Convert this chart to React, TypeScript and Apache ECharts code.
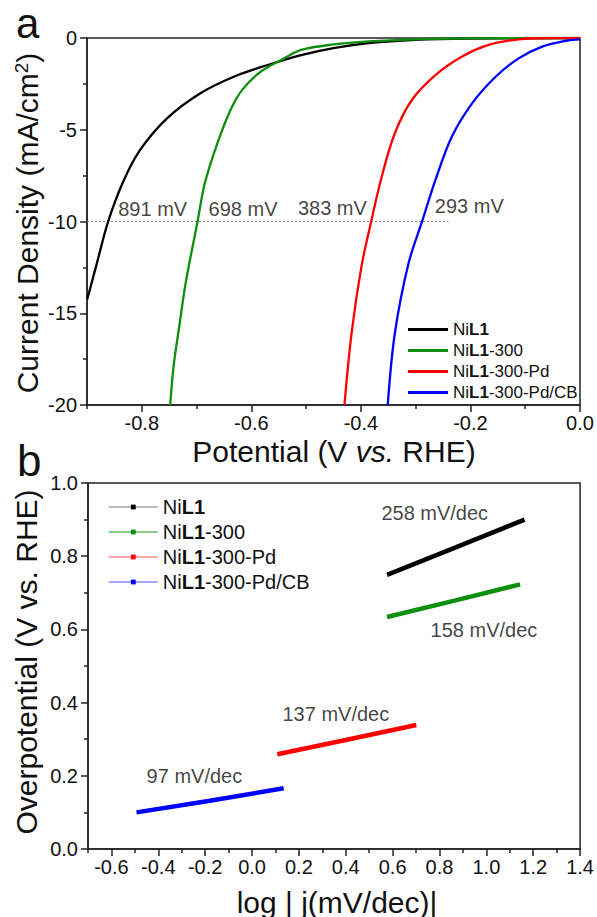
import React, { useEffect, useRef } from 'react';
import * as echarts from 'echarts';

const FONT = '"Liberation Sans", Arial, Helvetica, sans-serif';

const seriesNames = ['NiL1', 'NiL1-300', 'NiL1-300-Pd', 'NiL1-300-Pd/CB'];
const colors = ['#000000', '#0c8f0c', '#ff0000', '#0000ff'];
const legendLineColors = ['#a6a6a6', '#66b866', '#ff8a8a', '#8a8aff'];

// (a) LSV curves: [potential V vs RHE, current density mA/cm2]
const lsvNiL1 = [
  [-0.8995, -14.24], [-0.882, -12.28], [-0.861, -9.97], [-0.834, -7.83], [-0.803, -6.1],
  [-0.754, -4.38], [-0.693, -3.01], [-0.632, -2.11], [-0.57, -1.47], [-0.509, -0.93],
  [-0.45, -0.55], [-0.386, -0.28], [-0.3, -0.1], [-0.2, -0.03], [0, 0],
];
const lsvNiL1_300 = [
  [-0.748, -20], [-0.742, -17.9], [-0.731, -15.6], [-0.72, -13.37], [-0.698, -9.97],
  [-0.685, -7.92], [-0.662, -5.74], [-0.638, -3.92], [-0.616, -2.8], [-0.583, -1.84],
  [-0.54, -1.11], [-0.509, -0.65], [-0.45, -0.35], [-0.386, -0.18], [-0.3, -0.07],
  [-0.2, -0.02], [0, 0],
];
const lsvNiL1_300_Pd = [
  [-0.43, -20], [-0.417, -16.09], [-0.399, -12.46], [-0.381, -9.97], [-0.362, -7.56],
  [-0.338, -5.19], [-0.307, -3.38], [-0.264, -2.02], [-0.216, -1.02], [-0.167, -0.38],
  [-0.112, -0.07], [-0.05, 0], [0, 0],
];
const lsvNiL1_300_PdCB = [
  [-0.351, -20], [-0.338, -16.09], [-0.313, -12.28], [-0.288, -9.97], [-0.264, -7.74],
  [-0.234, -5.38], [-0.197, -3.56], [-0.154, -2.11], [-0.112, -1.11], [-0.069, -0.47],
  [-0.026, -0.15], [0, -0.07],
];
const refLine10 = [[-0.9, -10], [-0.24, -10]];
const lsvLabels = [
  [-0.843, -9.31, '891 mV'],
  [-0.678, -9.31, '698 mV'],
  [-0.515, -9.24, '383 mV'],
  [-0.265, -9.14, '293 mV'],
];

// (b) Tafel lines: [log|j|, overpotential V]
const tafelNiL1 = [[0.576, 0.749], [0.872, 0.825], [1.163, 0.9]];
const tafelNiL1_300 = [[0.576, 0.634], [0.86, 0.678], [1.144, 0.723]];
const tafelNiL1_300_Pd = [[0.108, 0.259], [0.4, 0.298], [0.701, 0.339]];
const tafelNiL1_300_PdCB = [[-0.493, 0.1], [-0.18, 0.132], [0.135, 0.166]];
const tafelLabels = [
  [0.552, 0.919, '258 mV/dec'],
  [0.762, 0.598, '158 mV/dec'],
  [0.13, 0.368, '137 mV/dec'],
  [-0.45, 0.2, '97 mV/dec'],
];

// tick labels
const xTicksA = [-0.8, -0.6, -0.4, -0.2, 0];
const xMinorA = [-0.9, -0.7, -0.5, -0.3, -0.1];
const xTicksB = [-0.6, -0.4, -0.2, 0, 0.2, 0.4, 0.6, 0.8, 1.0, 1.2, 1.4];
const xMinorB = [-0.7, -0.5, -0.3, -0.1, 0.1, 0.3, 0.5, 0.7, 0.9, 1.1, 1.3];

const lsvData = [lsvNiL1, lsvNiL1_300, lsvNiL1_300_Pd, lsvNiL1_300_PdCB];
const tafelData = [tafelNiL1, tafelNiL1_300, tafelNiL1_300_Pd, tafelNiL1_300_PdCB];

const AXIS_COLOR = '#222';
const TEXT_COLOR = '#111';

function legendFormatter(name: string) {
  const base = name.split('#')[0];
  const rest = base.slice(4);
  return '{n|Ni}{b|L1}' + (rest ? '{n|' + rest + '}' : '');
}

function majorX(gridIndex: number, min: number, max: number, ticks: number[]) {
  return {
    type: 'value', gridIndex, min, max, position: 'bottom',
    axisLine: { show: true, onZero: false, lineStyle: { color: AXIS_COLOR, width: 1.5 } },
    axisTick: { show: true, length: 7, customValues: ticks, lineStyle: { color: AXIS_COLOR, width: 1.5 } },
    axisLabel: {
      show: true, customValues: ticks, margin: 8, fontSize: 20, lineHeight: 20, fontFamily: FONT, color: TEXT_COLOR,
      formatter: (v: number) => v.toFixed(1),
    },
    splitLine: { show: false },
  };
}
function minorX(gridIndex: number, min: number, max: number, ticks: number[]) {
  return {
    type: 'value', gridIndex, min, max, position: 'bottom',
    axisLine: { show: false, onZero: false },
    axisTick: { show: true, length: 4, customValues: ticks, lineStyle: { color: AXIS_COLOR, width: 1.5 } },
    axisLabel: { show: false },
    splitLine: { show: false },
  };
}

export default function App() {
  const ref = useRef<HTMLDivElement>(null);
  useEffect(() => {
    if (!ref.current) return;
    const chart = echarts.init(ref.current, undefined, { renderer: 'svg' });

    const series: any[] = [];
    seriesNames.forEach((n, i) => {
      series.push({
        name: n + '#a', type: 'line', xAxisIndex: 0, yAxisIndex: 0,
        data: lsvData[i], symbol: 'none', smooth: 0.35,
        lineStyle: { color: colors[i], width: 2.3 }, itemStyle: { color: colors[i] },
        z: 3,
      });
    });
    series.push({
      name: 'ref', type: 'line', xAxisIndex: 0, yAxisIndex: 0, data: refLine10, symbol: 'none',
      lineStyle: { color: '#8a8a8a', width: 1.2, type: [2, 2] }, silent: true, z: 2,
    });
    series.push({
      name: 'lsvLabels', type: 'scatter', xAxisIndex: 0, yAxisIndex: 0, data: lsvLabels, symbolSize: 0,
      silent: true, z: 5,
      label: {
        show: true, position: 'right', distance: 0, fontSize: 20, fontFamily: FONT, color: TEXT_COLOR,
        formatter: (p: any) => p.data[2],
      },
    });
    seriesNames.forEach((n, i) => {
      series.push({
        name: n + '#b', type: 'line', xAxisIndex: 2, yAxisIndex: 1,
        data: tafelData[i], symbol: 'rect', showSymbol: false,
        lineStyle: { color: colors[i], width: 4.5 }, itemStyle: { color: colors[i] },
        z: 3,
      });
    });
    series.push({
      name: 'tafelLabels', type: 'scatter', xAxisIndex: 2, yAxisIndex: 1, data: tafelLabels, symbolSize: 0,
      silent: true, z: 5,
      label: {
        show: true, position: 'right', distance: 0, fontSize: 20, fontFamily: FONT, color: TEXT_COLOR,
        formatter: (p: any) => p.data[2],
      },
    });

    const richLegend = (fs: number) => ({
      n: { fontSize: fs, fontFamily: FONT, color: TEXT_COLOR },
      b: { fontSize: fs, fontFamily: FONT, color: TEXT_COLOR, fontWeight: 'bold' },
    });

    const titleRich = {
      r: { fontSize: 30, fontFamily: FONT, fill: TEXT_COLOR },
      i: { fontSize: 30, fontFamily: FONT, fill: TEXT_COLOR, fontStyle: 'italic' },
      s: { fontSize: 19, fontFamily: FONT, fill: TEXT_COLOR, verticalAlign: 'top' },
    };

    chart.setOption({
      animation: false,
      backgroundColor: '#ffffff',
      grid: [
        { left: 87, top: 38, width: 493, height: 367, show: true, borderColor: AXIS_COLOR, borderWidth: 1.5 },
        { left: 88, top: 483, width: 493, height: 366, show: true, borderColor: AXIS_COLOR, borderWidth: 1.5 },
      ],
      xAxis: [
        majorX(0, -0.9, 0, xTicksA),
        minorX(0, -0.9, 0, xMinorA),
        majorX(1, -0.7, 1.4, xTicksB),
        minorX(1, -0.7, 1.4, xMinorB),
      ],
      yAxis: [
        {
          type: 'value', gridIndex: 0, min: -20, max: 0, interval: 5,
          axisLine: { show: true, onZero: false, lineStyle: { color: AXIS_COLOR, width: 1.5 } },
          axisTick: { show: true, length: 7, lineStyle: { color: AXIS_COLOR, width: 1.5 } },
          minorTick: { show: true, splitNumber: 2, length: 4, lineStyle: { color: AXIS_COLOR, width: 1.5 } },
          axisLabel: { margin: 10, fontSize: 20, fontFamily: FONT, color: TEXT_COLOR, formatter: (v: number) => String(v) },
          splitLine: { show: false },
        },
        {
          type: 'value', gridIndex: 1, min: 0, max: 1, interval: 0.2,
          axisLine: { show: true, onZero: false, lineStyle: { color: AXIS_COLOR, width: 1.5 } },
          axisTick: { show: true, length: 7, lineStyle: { color: AXIS_COLOR, width: 1.5 } },
          minorTick: { show: true, splitNumber: 2, length: 4, lineStyle: { color: AXIS_COLOR, width: 1.5 } },
          axisLabel: { margin: 10, fontSize: 20, fontFamily: FONT, color: TEXT_COLOR, formatter: (v: number) => v.toFixed(1) },
          splitLine: { show: false },
        },
      ],
      legend: [
        {
          orient: 'vertical', left: 408, top: 321, itemWidth: 40, itemHeight: 3, itemGap: 4, icon: 'rect',
          selectedMode: false, padding: 0,
          data: seriesNames.map((n) => ({ name: n + '#a' })),
          formatter: legendFormatter,
          textStyle: { fontSize: 17, lineHeight: 17, fontFamily: FONT, color: TEXT_COLOR, rich: richLegend(17) },
        },
        {
          orient: 'vertical', left: 108, top: 497, itemWidth: 49, itemHeight: 6, itemGap: 5,
          selectedMode: false, padding: 0,
          data: seriesNames.map((n, i) => ({
            name: n + '#b',
            lineStyle: { color: legendLineColors[i], width: 1.6 },
            itemStyle: { color: colors[i] },
          })),
          formatter: legendFormatter,
          textStyle: { fontSize: 20, lineHeight: 20, fontFamily: FONT, color: TEXT_COLOR, rich: richLegend(20) },
        },
      ],
      graphic: [
        { type: 'text', x: 16, y: 23, style: { text: 'a', fontSize: 42, lineHeight: 30, fontFamily: FONT, fill: '#111', align: 'left', verticalAlign: 'middle' } },
        { type: 'text', x: 17, y: 460, style: { text: 'b', fontSize: 44, lineHeight: 34, fontFamily: FONT, fill: '#111', align: 'left', verticalAlign: 'middle' } },
        {
          type: 'text', x: 27, y: 223, rotation: Math.PI / 2,
          style: { text: '{r|Current Density (mA/cm}{s|2}{r|)}', rich: titleRich, align: 'center', verticalAlign: 'middle' },
        },
        {
          type: 'text', x: 334, y: 451,
          style: { text: '{r|Potential (V }{i|vs.}{r| RHE)}', rich: titleRich, align: 'center', verticalAlign: 'middle' },
        },
        {
          type: 'text', x: 26, y: 662, rotation: Math.PI / 2,
          style: { text: '{r|Overpotential (V vs. RHE)}', rich: titleRich, align: 'center', verticalAlign: 'middle' },
        },
        {
          type: 'text', x: 337, y: 902,
          style: { text: '{r|log | j(mV/dec)|}', rich: titleRich, align: 'center', verticalAlign: 'middle' },
        },
      ],
      series,
    });
    return () => chart.dispose();
  }, []);
  return <div ref={ref} style={{ position: 'absolute', left: 0, top: 0, width: 597, height: 917 }} />;
}
